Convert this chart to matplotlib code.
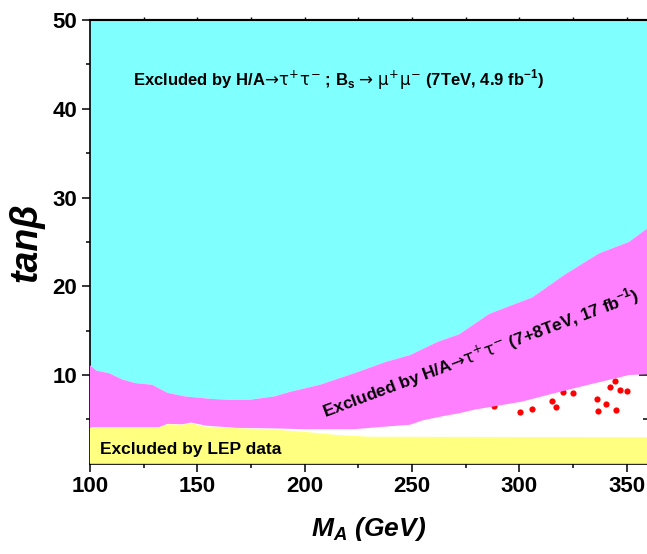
import matplotlib as mpl
import matplotlib.pyplot as plt

mpl.rcParams['font.family'] = ['Liberation Sans', 'DejaVu Sans']
mpl.rcParams['mathtext.fontset'] = 'custom'
mpl.rcParams['mathtext.rm'] = 'DejaVu Sans'
mpl.rcParams['mathtext.it'] = 'DejaVu Sans'
mpl.rcParams['mathtext.bf'] = 'Liberation Sans:bold'
mpl.rcParams['mathtext.bfit'] = 'Liberation Sans:italic:bold'

# upper edge of the 7+8 TeV band (below it: cyan 7 TeV region)
ma_upper = [100, 103, 109, 115, 121, 129, 136, 144, 157, 166, 174, 180, 186,
            193, 207, 223, 238, 249, 262, 272, 286, 306, 321, 337, 351, 360]
tb_upper = [11.1, 10.5, 10.2, 9.5, 9.1, 8.9, 8.0, 7.6, 7.3, 7.2, 7.2, 7.4, 7.6,
            8.1, 8.9, 10.2, 11.5, 12.25, 13.75, 14.6, 16.9, 18.75, 21.3, 23.7, 25.0, 26.6]

# lower edge of the 7+8 TeV band
ma_lower = [100, 132, 136, 143, 147, 154, 168, 184, 200, 223, 238, 249, 255,
            265, 272, 279, 301, 317, 332, 351, 360]
tb_lower = [4.1, 4.1, 4.5, 4.45, 4.65, 4.3, 4.05, 4.0, 3.9, 3.9, 4.2, 4.4, 4.9,
            5.4, 5.7, 6.1, 7.0, 8.0, 8.9, 10.0, 10.1]

# LEP limit
ma_lep = [100, 132, 136, 143, 147, 153, 170, 186, 200, 215, 230, 360]
tb_lep = [4.1, 4.1, 4.45, 4.4, 4.6, 4.2, 4.0, 3.85, 3.6, 3.25, 3.05, 3.0]

# allowed scan points
dot_ma = [288.2, 300.3, 305.9, 315.0, 317.0, 320.4, 325.1, 336.0, 336.7,
          340.2, 342.2, 344.5, 345.1, 347.0, 350.0]
dot_tb = [6.5, 5.87, 6.14, 7.07, 6.36, 8.1, 7.94, 7.30, 5.95,
          6.77, 8.65, 9.36, 6.02, 8.28, 8.23]

xmin, xmax = 100, 359.4
ymin, ymax = 0, 50

fig = plt.figure(figsize=(6.47, 5.54), dpi=100)
rect = [0.1391, 0.1628, 1 - 0.1391, 0.8011]

# right-hand ticks drawn underneath so the fills hide them
axr = fig.add_axes(rect)
axr.set_xlim(xmin, xmax)
axr.set_ylim(ymin, ymax)
axr.set_xticks([])
axr.yaxis.tick_right()
axr.set_yticks([10, 20, 30, 40, 50])
axr.set_yticks(range(5, 50, 10), minor=True)
axr.set_yticklabels([])
axr.tick_params(axis='y', which='major', direction='in', length=6, width=1.1)
axr.tick_params(axis='y', which='minor', direction='in', length=3, width=1.1)
for s in axr.spines.values():
    s.set_visible(False)

ax = fig.add_axes(rect)
ax.patch.set_visible(False)
ax.set_xlim(xmin, xmax)
ax.set_ylim(ymin, ymax)

ax.fill(ma_upper + [360, 100], tb_upper + [50, 50], color='#80FFFF', lw=0, zorder=1)
ax.scatter(dot_ma, dot_tb, s=20, color='#FF0000', lw=0, zorder=2)
ax.fill(ma_upper + ma_lower[::-1], tb_upper + tb_lower[::-1],
        color='#FF80FF', lw=0, zorder=3)
ax.fill(ma_lep + [360, 100], tb_lep + [0, 0], color='#FFFF80', lw=0, zorder=4)

ax.text(120, 42.6,
        r'Excluded by H/A$→\tau^{+}\tau^{-}$ ; B$_{\mathbf{s}}$ $→$ '
        r'$\mu^{+}\mu^{-}$ (7TeV, 4.9 fb$^{\mathbf{-1}}$)',
        fontsize=12, fontweight='bold', va='baseline', zorder=6)
ax.text(209.5, 5.2,
        r'Excluded by H/A$→\tau^{+}\tau^{-}$ (7+8TeV, 17 fb$^{\mathbf{-1}}$)',
        fontsize=12.4, fontweight='bold', va='baseline', ha='left',
        rotation=20.5, rotation_mode='anchor', zorder=6)
ax.text(104.7, 1.05, 'Excluded by LEP data', fontsize=12.5, fontweight='bold',
        va='baseline', zorder=6)

ax.set_xticks([100, 150, 200, 250, 300, 350])
ax.set_xticks([125, 175, 225, 275, 325], minor=True)
ax.set_yticks([10, 20, 30, 40, 50])
ax.set_yticks(range(5, 50, 10), minor=True)
ax.tick_params(which='major', direction='out', length=6, width=1.1,
               labelsize=16, pad=3)
ax.tick_params(which='minor', direction='out', length=3, width=1.1)
for lab in ax.get_xticklabels() + ax.get_yticklabels():
    lab.set_fontweight('bold')

top = ax.secondary_xaxis('top')
top.set_xticks([125, 150, 175, 200, 225, 250, 275, 300, 325, 350])
top.set_xticklabels([])
top.tick_params(direction='out', length=2.5, width=1)

for side in ['left', 'bottom']:
    ax.spines[side].set_linewidth(1.2)
ax.spines['top'].set_linewidth(1.5)
ax.spines['right'].set_visible(False)
top.spines['top'].set_linewidth(1.5)

ax.set_xlabel(r'$\mathbfit{M}_{\mathbfit{A}}$ (GeV)', fontsize=19, fontweight='bold',
              style='italic', labelpad=13)
ax.set_ylabel('tanβ', fontsize=27, fontweight='bold', style='italic', labelpad=6)

fig.savefig('out.png', dpi=100)
